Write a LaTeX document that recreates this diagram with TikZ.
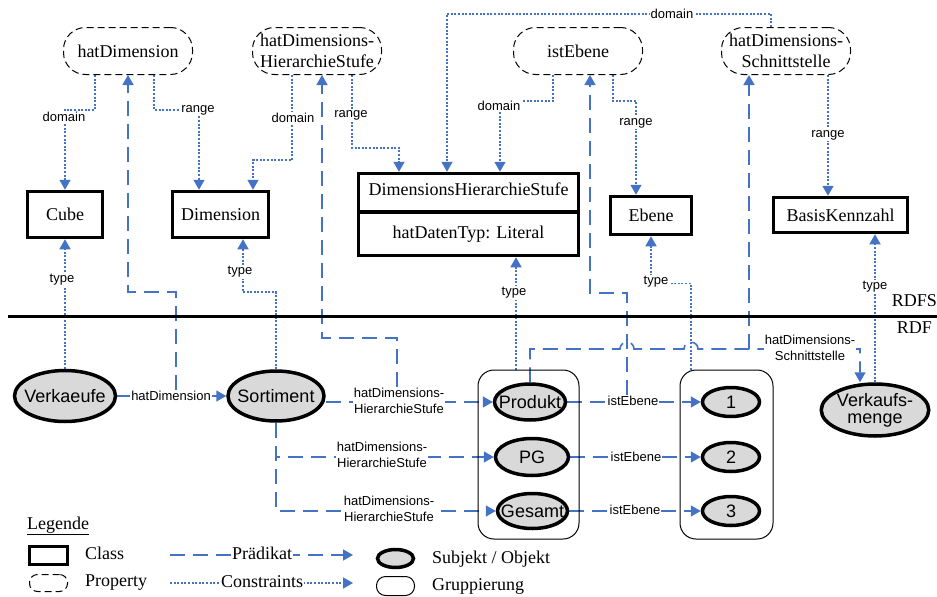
\documentclass[tikz,border=0pt]{standalone}
\usepackage{fontspec}
\setmainfont{Liberation Serif}
\setsansfont{Liberation Sans}
\usetikzlibrary{arrows.meta,shapes.geometric,calc}
\definecolor{myblue}{RGB}{68,114,196}
\definecolor{subjgray}{RGB}{217,217,217}
\pgfdeclarelayer{bg}
\pgfsetlayers{bg,main}
\begin{document}
\begin{tikzpicture}[x=1pt,y=-1pt,
  serif/.style={font=\fontsize{18}{21}\selectfont\rmfamily, inner sep=0pt, align=center},
  prop/.style={draw=black, line width=1pt, dash pattern=on 7pt off 4pt, rounded corners=22pt, fill=white,
    minimum width=129pt, minimum height=47pt, inner sep=0pt, align=center, font=\fontsize{18}{21}\selectfont\rmfamily},
  cls/.style={draw=black, line width=3.5pt, inner sep=0pt, fill=white, font=\fontsize{18}{21}\selectfont\rmfamily},
  subj/.style={ellipse, draw=black, line width=3.5pt, fill=subjgray, inner sep=0pt, font=\fontsize{18}{17}\selectfont\sffamily},
  grp/.style={draw=black, line width=1pt, rounded corners=16pt, inner sep=0pt},
  lbl/.style={font=\fontsize{13}{16}\selectfont\sffamily, fill=white, inner sep=1pt, align=center},
  con/.style={draw=myblue, line width=1.6pt, dash pattern=on 2pt off 1.6pt, -{Triangle[length=10pt,width=11pt]}},
  pred/.style={draw=myblue, line width=1.6pt, dash pattern=on 15pt off 8pt, -{Triangle[length=10pt,width=11pt]}}]
\useasboundingbox (0,0) rectangle (937,597);

% properties
\node[prop] (hd) at (128,51) {hatDimension};
\node[prop] (hdh) at (317,51) {hatDimensions-\\HierarchieStufe};
\node[prop] (ie) at (578,51) {istEbene};
\node[prop] (hds) at (786,51) {hatDimensions-\\Schnittstelle};

% classes
\node[cls, minimum width=75pt, minimum height=46pt] (cube) at (65,214.5) {Cube};
\node[cls, minimum width=96pt, minimum height=46pt] (dim) at (220.5,214.5) {Dimension};
\node[cls, minimum width=220pt, minimum height=82pt] (dhs) at (468.5,214.5) {};
\node[serif] (dhst) at (468.5,189) {DimensionsHierarchieStufe};
\node[serif] (dhsb) at (468.5,234) {hatDatenTyp: Literal};
\draw[line width=3.5pt] ([yshift=2.5pt]dhs.west) -- ([yshift=2.5pt]dhs.east);
\node[cls, minimum width=81pt, minimum height=38pt] (ebene) at (651,215.5) {Ebene};
\node[cls, minimum width=134pt, minimum height=35pt] (bk) at (840.5,215) {BasisKennzahl};

% separator
\coordinate (sepL) at (8,316);
\coordinate (sepR) at (937,316);
\draw[line width=3pt] (sepL) -- (sepR);
\node[serif, anchor=east] (rdfs) at (937,301) {RDFS};
\node[serif, anchor=east] (rdf) at (932,328) {RDF};

% groups
\node[grp, minimum width=101pt, minimum height=169pt] (g1) at (528.5,454.5) {};
\node[grp, minimum width=93pt, minimum height=169pt] (g2) at (726.5,454.5) {};

% subjects / objects
\node[subj, minimum width=101pt, minimum height=51pt] (verk) at (65,396) {\makebox[0pt]{Verkaeufe}};
\node[subj, minimum width=96pt, minimum height=50pt] (sort) at (276,396) {\makebox[0pt]{Sortiment}};
\node[subj, minimum width=71pt, minimum height=36pt] (prod) at (530,402) {\makebox[0pt]{Produkt}};
\node[subj, minimum width=73pt, minimum height=37pt] (pg) at (532,457) {\makebox[0pt]{PG}};
\node[subj, minimum width=70pt, minimum height=35pt] (ges) at (532.5,511) {\makebox[0pt]{Gesamt}};
\node[subj, minimum width=57pt, minimum height=29pt] (e1) at (731,402) {\makebox[0pt]{1}};
\node[subj, minimum width=57pt, minimum height=29pt] (e2) at (731,457) {\makebox[0pt]{2}};
\node[subj, minimum width=57pt, minimum height=29pt] (e3) at (731,511) {\makebox[0pt]{3}};
\node[subj, minimum width=103pt, minimum height=52pt, align=center] (vm) at (875,410) {Verkaufs-\\menge};

% labels
\node[lbl] (ld1) at (64,117) {domain};
\node[lbl] (lr1) at (198,110) {range};
\node[lbl] (ld2) at (293,118) {domain};
\node[lbl] (lr2) at (351,115) {range};
\node[lbl] (ld3) at (672,14) {domain};
\node[lbl] (ld4) at (499,106) {domain};
\node[lbl] (lr3) at (636,123) {range};
\node[lbl] (lr4) at (828,135) {range};
\node[lbl] (lt1) at (62,280) {type};
\node[lbl] (lt2) at (240,272) {type};
\node[lbl] (lt3) at (514,293) {type};
\node[lbl] (lt4) at (656,282) {type};
\node[lbl] (lt5) at (875,287) {type};
\node[lbl] (l14) at (171,396) {hatDimension};
\node[lbl] (l15) at (399,401) {hatDimensions-\\HierarchieStufe};
\node[lbl] (l16) at (382,455) {hatDimensions-\\HierarchieStufe};
\node[lbl] (l17) at (389,509) {hatDimensions-\\HierarchieStufe};
\node[lbl] (l18) at (633,401) {istEbene};
\node[lbl] (l19) at (636,457) {istEbene};
\node[lbl] (l20) at (635,510) {istEbene};
\node[lbl] (l21) at (810,348) {hatDimensions-\\Schnittstelle};

% legend
\node[serif, anchor=west] (lg) at (27,526) {\underline{Legende}};
\node[cls, minimum width=38pt, minimum height=18pt] (lgc) at (48.5,555.5) {};
\node[serif, anchor=west] (lgct) at (85,553) {Class};
\node[prop, minimum width=38pt, minimum height=17pt, rounded corners=8pt] (lgp) at (48.5,583) {};
\node[serif, anchor=west] (lgpt) at (85,583) {Property};
\node[serif, fill=white, inner sep=1pt] (lpt) at (262,553) {Prädikat};
\node[serif, fill=white, inner sep=1pt] (lct) at (262,582) {Constraints};
\node[subj, minimum width=36pt, minimum height=18pt] (lgs) at (395.5,558.5) {};
\node[serif, anchor=west] (lgst) at (432,559) {Subjekt / Objekt};
\node[grp, minimum width=38pt, minimum height=19pt, rounded corners=9pt] (lgg) at (395.5,586) {};
\node[serif, anchor=west] (lggt) at (432,586) {Gruppierung};

\coordinate (b14) at (128,292);
\coordinate (b15) at (322,338);
\coordinate (b18) at (590,293);
\coordinate (h1a) at (620,349);
\coordinate (h1b) at (634,349);
\coordinate (h2a) at (684,349);
\coordinate (h2b) at (698,349);
\coordinate (s21) at (749,349);
\coordinate (lpa) at (170,555);
\coordinate (lpb) at (353,555);
\coordinate (lca) at (170,583);
\coordinate (lcb) at (353,583);

\begin{pgfonlayer}{bg}
% constraints
\draw[con] ([xshift=-33pt]hd.south) -- ++(0,35) -| (cube.north);
\draw[con] ([xshift=26pt]hd.south) -- ++(0,35) -| ([xshift=-21.5pt]dim.north);
\draw[con] ([xshift=-25pt]hdh.south) -- ++(0,85) -| ([xshift=32.5pt]dim.north);
\draw[con] ([xshift=35pt]hdh.south) -- ++(0,73) -| ([xshift=-69.5pt]dhs.north);
\draw[con] ([xshift=-15pt]hds.north) -- ++(0,-13) -| ([xshift=-21.5pt]dhs.north);
\draw[con] ([xshift=-25pt]ie.south) -- ++(0,26) -| ([xshift=31.5pt]dhs.north);
\draw[con] ([xshift=35pt]ie.south) -- ++(0,26) -| ([xshift=-15pt]ebene.north);
\draw[con] ([xshift=42pt]hds.south) -- ([xshift=-12.5pt]bk.north);
% type
\draw[con] (verk.north) -- (cube.south);
\draw[con] (sort.north) -- ++(0,-77) -| ([xshift=22.5pt]dim.south);
\draw[con] ([xshift=-12.5pt]g1.north) -- ([xshift=47.5pt]dhs.south);
\draw[con] ([xshift=-35.5pt]g2.north) -- ++(0,-86) -| (ebene.south);
\draw[con] (vm.north) -- ([xshift=34.5pt]bk.south);
% predicates
\draw[pred] (verk.east) -- (sort.west);
\draw[pred] (sort.east |- prod.west) -- (prod.west);
\draw[pred] (sort.south) |- (pg.west);
\draw[pred] (sort.south) |- (ges.west);
\draw[pred] (prod.east) -- (e1.west);
\draw[pred] (pg.east) -- (e2.west);
\draw[pred] (ges.east) -- (e3.west);
% links to properties
\draw[pred] ([xshift=5pt]l14.north) |- (b14) -- (hd.south);
\draw[pred] ([xshift=-2pt]l15.north) |- (b15) -- ([xshift=5pt]hdh.south);
\draw[pred] ([xshift=-6pt]l18.north) |- (b18) -- ([xshift=12pt]ie.south);
\draw[pred] (prod.north) |- (h1a) .. controls +(0,-9) and +(0,-9) .. (h1b) -- (h2a) .. controls +(0,-9) and +(0,-9) .. (h2b) -| ([xshift=-15pt]vm.north);
\draw[pred] (s21) -- ([xshift=-37pt]hds.south);
% legend lines
\draw[pred] (lpa) -- (lpb);
\draw[con] (lca) -- (lcb);
\end{pgfonlayer}
\end{tikzpicture}
\end{document}
